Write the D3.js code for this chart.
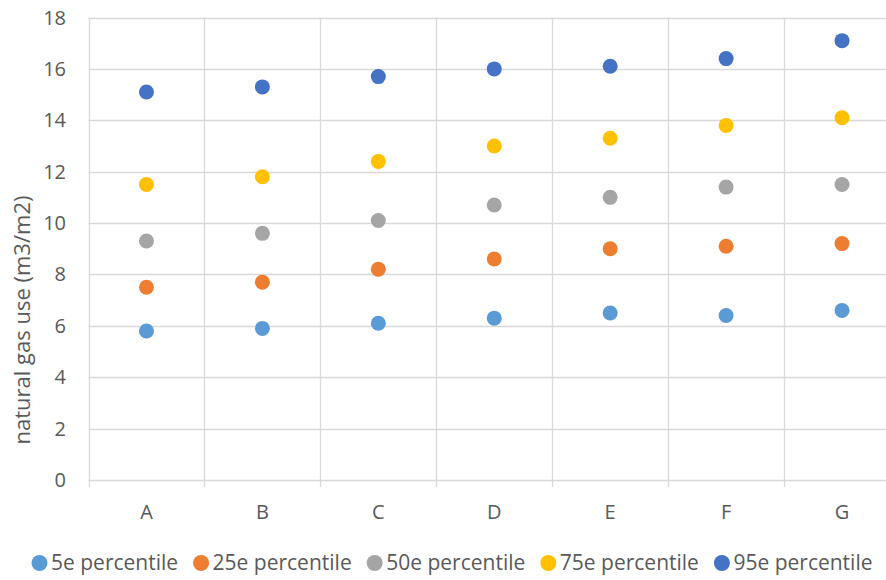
<!DOCTYPE html>
<html>
<head>
<meta charset="utf-8">
<script src="https://cdn.jsdelivr.net/npm/d3@7"></script>
<style>
  body { margin: 0; background: #fff; }
  svg text { font-family: "Open Sans", "Noto Sans", sans-serif; fill: #595959; }
</style>
</head>
<body>
<svg></svg>
<script>
// categories and series
const categories = ['A', 'B', 'C', 'D', 'E', 'F', 'G'];
const seriesNames = ['5e percentile', '25e percentile', '50e percentile', '75e percentile', '95e percentile'];
const p5  = [5.8, 5.9, 6.1, 6.3, 6.5, 6.4, 6.6];
const p25 = [7.5, 7.7, 8.2, 8.6, 9.0, 9.1, 9.2];
const p50 = [9.3, 9.6, 10.1, 10.7, 11.0, 11.4, 11.5];
const p75 = [11.5, 11.8, 12.4, 13.0, 13.3, 13.8, 14.1];
const p95 = [15.1, 15.3, 15.7, 16.0, 16.1, 16.4, 17.1];
const yTicks = [0, 2, 4, 6, 8, 10, 12, 14, 16, 18];
const colors = ['#5B9BD5', '#ED7D31', '#A5A5A5', '#FFC000', '#4472C4'];

const series = [p5, p25, p50, p75, p95].map((vals, i) => ({
  name: seriesNames[i],
  color: colors[i],
  values: vals
}));

let width = 886;
let height = 580;
let margin = { left: 88.5, top: 17.5, bottom: 100, right: -14 };

let x = d3.scaleBand()
  .domain(categories)
  .range([margin.left, width - margin.right]);

let y = d3.scaleLinear()
  .domain([0, 18])
  .range([height - margin.bottom, margin.top]);

let svg = d3.select('svg')
  .attr('width', width)
  .attr('height', height);

// horizontal gridlines
svg.append('g')
  .selectAll('line')
  .data(yTicks)
  .enter()
    .append('line')
    .attr('x1', margin.left)
    .attr('x2', width)
    .attr('y1', d => Math.round(y(d)) + 0.5)
    .attr('y2', d => Math.round(y(d)) + 0.5)
    .attr('stroke', '#d9d9d9')
    .attr('stroke-width', 1.3);

// vertical gridlines between categories (with ticks below axis)
svg.append('g')
  .selectAll('line')
  .data(categories)
  .enter()
    .append('line')
    .attr('x1', d => Math.round(x(d)) + 0.5)
    .attr('x2', d => Math.round(x(d)) + 0.5)
    .attr('y1', y(18))
    .attr('y2', y(0) + 7)
    .attr('stroke', '#d9d9d9')
    .attr('stroke-width', 1.3);

// y axis labels
svg.append('g')
  .selectAll('text')
  .data(yTicks)
  .enter()
    .append('text')
    .attr('x', 66)
    .attr('y', d => y(d))
    .attr('dy', '0.35em')
    .attr('text-anchor', 'end')
    .style('font-size', '20px')
    .text(d => d);

// x axis labels
svg.append('g')
  .selectAll('text')
  .data(categories)
  .enter()
    .append('text')
    .attr('x', d => x(d) + x.bandwidth() / 2)
    .attr('y', 512)
    .attr('dy', '0.35em')
    .attr('text-anchor', 'middle')
    .style('font-size', '20px')
    .text(d => d);

// axis title
svg.append('text')
  .attr('transform', 'translate(22, 320) rotate(-90)')
  .attr('text-anchor', 'middle')
  .attr('dy', '0.35em')
  .style('font-size', '22px')
  .text('natural gas use (m3/m2)');

// points
series.forEach(s => {
  svg.append('g')
    .selectAll('circle')
    .data(s.values)
    .enter()
      .append('circle')
      .attr('cx', (d, i) => x(categories[i]) + x.bandwidth() / 2)
      .attr('cy', d => y(d))
      .attr('r', 7.5)
      .attr('fill', s.color);
});

// legend
let legend = svg.append('g');
let offset = 0;
series.forEach(s => {
  let item = legend.append('g').attr('transform', `translate(${offset},0)`);
  item.append('circle')
    .attr('cx', 8)
    .attr('cy', 0)
    .attr('r', 8)
    .attr('fill', s.color);
  let t = item.append('text')
    .attr('x', 19.5)
    .attr('y', 0)
    .attr('dy', '0.35em')
    .style('font-size', '21px')
    .text(s.name);
  offset += 19.5 + t.node().getComputedTextLength() + 15;
});
let legendW = offset - 15;
legend.attr('transform', `translate(${452 - legendW / 2}, 563)`);
</script>
</body>
</html>
